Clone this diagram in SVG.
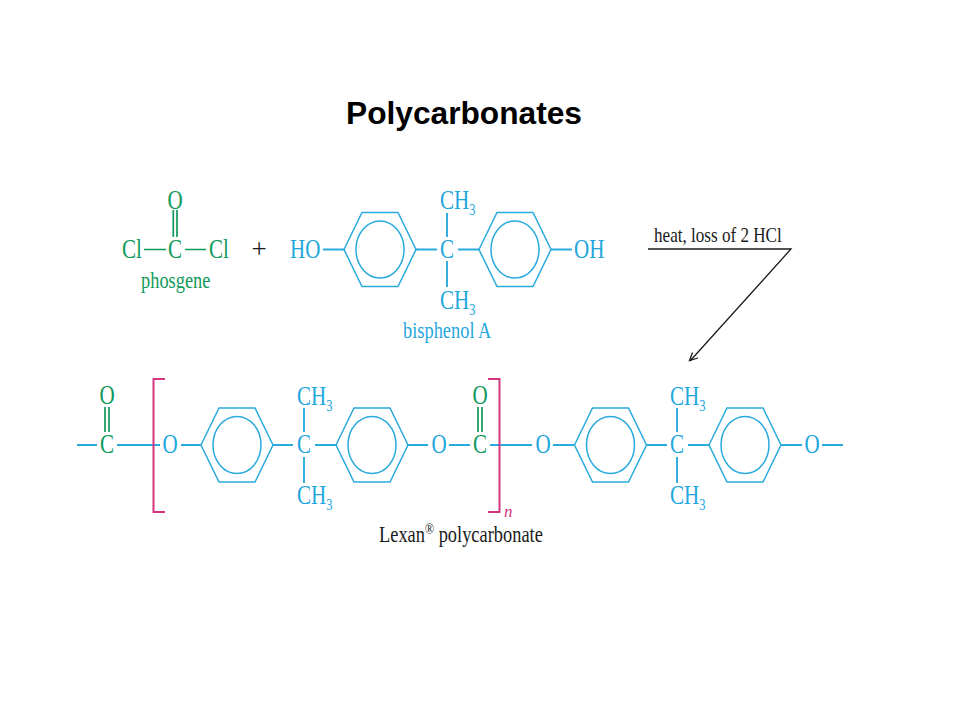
<svg xmlns="http://www.w3.org/2000/svg" width="960" height="720" viewBox="0 0 960 720">
<style>
text{font-family:"Liberation Serif","Times New Roman",serif}
.t{font-size:27px}
.l{font-size:23px}
.s{font-size:16px}
.c{fill:#1fa7dd}
.g{fill:#0f9a5c}
.k{fill:#1a1a1a}
.bc,.bg,.bk,.bp{fill:none;stroke-linecap:butt}
.bc{stroke:#2aaadd;stroke-width:1.9}
.bg{stroke:#11995c;stroke-width:1.7}
.bk{stroke:#1a1a1a;stroke-width:1.3}
.bp{stroke:#d5347f;stroke-width:2}
.r{fill:none;stroke:#2aaadd;stroke-width:1.5}
</style>
<defs>
<g id="ring"><polygon class="r" points="-36,0 -18,-37 18,-37 36,0 18,37 -18,37"/><ellipse class="r" cx="0" cy="0" rx="24" ry="28.500"/></g>
</defs>
<rect width="960" height="720" fill="#fff"/>
<g id="title"><text x="346" y="124" font-size="31.700" font-weight="700" style="font-family:'Liberation Sans',Arial,sans-serif" fill="#000">Polycarbonates</text></g>

<g id="connectors">
<path class="bg" d="M144 249.500H166M185 249.500H206M173.300 210V237M177 210V237"/>
<path class="bc" d="M323 249.500H345M415 249.500H437M458 249.500H479M551 249.500H572M447 213V237M447 261V287"/>
<path class="bk" d="M648 249H791L690 361"/>
<path class="bk" d="M692.500 352.500L689.500 360.500L698 358"/>
<path class="bc" d="M77 445H97M117 445H160M181 445H201M273 445H293M315 445H336M407 445H428M449 445H470M490 445H532M553 445H575M646 445H667M688 445H709M781 445H802M822 445H843M304 408V432M304 457V483M677 408V432M677 457V483"/>
<path class="bg" d="M105 407V432M109 407V432M478 407V432M482 407V432"/>
</g>

<g id="phosgene">
<text class="t g" transform="translate(122 258) scale(.78 1)">Cl</text>
<text class="t g" transform="translate(175 258) scale(.78 1)" text-anchor="middle">C</text>
<text class="t g" transform="translate(209 258) scale(.78 1)">Cl</text>
<text class="t g" transform="translate(175 209) scale(.78 1)" text-anchor="middle">O</text>
<text class="l g" transform="translate(141 288) scale(.8 1)">phosgene</text>
</g>
<g id="plus"><text class="t k" transform="translate(259 258)" text-anchor="middle">+</text></g>

<g id="bisphenol-a">
<text class="t c" transform="translate(290 258) scale(.78 1)">HO</text>
<use href="#ring" x="380" y="249.500"/>
<text class="t c" transform="translate(447 258) scale(.78 1)" text-anchor="middle">C</text>
<text class="t c" transform="translate(440 209) scale(.78 1)">CH<tspan class="s" dy="6">3</tspan></text>
<text class="t c" transform="translate(440 309) scale(.78 1)">CH<tspan class="s" dy="6">3</tspan></text>
<use href="#ring" x="515" y="249.500"/>
<text class="t c" transform="translate(574 258) scale(.78 1)">OH</text>
<text class="l c" transform="translate(403 338) scale(.8 1)">bisphenol A</text>
</g>

<g id="condition"><text class="k" font-size="21" transform="translate(654 242) scale(.815 1)">heat, loss of 2 HCl</text></g>

<g id="end-carbonyl">
<text class="t g" transform="translate(107 453) scale(.78 1)" text-anchor="middle">C</text>
<text class="t g" transform="translate(107 404) scale(.78 1)" text-anchor="middle">O</text>
</g>
<g id="repeat-unit">
<path class="bp" d="M165 379H153.500V512H165"/>
<path class="bp" d="M488 379H499.500V512H488"/>
<text x="504" y="517" font-size="17" font-style="italic" fill="#d5347f">n</text>
<text class="t c" transform="translate(170 453) scale(.78 1)" text-anchor="middle">O</text>
<use href="#ring" x="237" y="445"/>
<text class="t c" transform="translate(304 453) scale(.78 1)" text-anchor="middle">C</text>
<text class="t c" transform="translate(297 405) scale(.78 1)">CH<tspan class="s" dy="6">3</tspan></text>
<text class="t c" transform="translate(297 504) scale(.78 1)">CH<tspan class="s" dy="6">3</tspan></text>
<use href="#ring" x="372" y="445"/>
<text class="t c" transform="translate(439 453) scale(.78 1)" text-anchor="middle">O</text>
<text class="t g" transform="translate(480 453) scale(.78 1)" text-anchor="middle">C</text>
<text class="t g" transform="translate(480 404) scale(.78 1)" text-anchor="middle">O</text>
</g>
<g id="next-unit">
<text class="t c" transform="translate(543 453) scale(.78 1)" text-anchor="middle">O</text>
<use href="#ring" x="610.500" y="445"/>
<text class="t c" transform="translate(677 453) scale(.78 1)" text-anchor="middle">C</text>
<text class="t c" transform="translate(670 405) scale(.78 1)">CH<tspan class="s" dy="6">3</tspan></text>
<text class="t c" transform="translate(670 504) scale(.78 1)">CH<tspan class="s" dy="6">3</tspan></text>
<use href="#ring" x="745" y="445"/>
<text class="t c" transform="translate(812 453) scale(.78 1)" text-anchor="middle">O</text>
</g>
<g id="lexan-label"><text class="l k" transform="translate(379 542) scale(.8 1)">Lexan<tspan font-size="15" dy="-8">®</tspan><tspan dy="8"> polycarbonate</tspan></text></g>
</svg>
